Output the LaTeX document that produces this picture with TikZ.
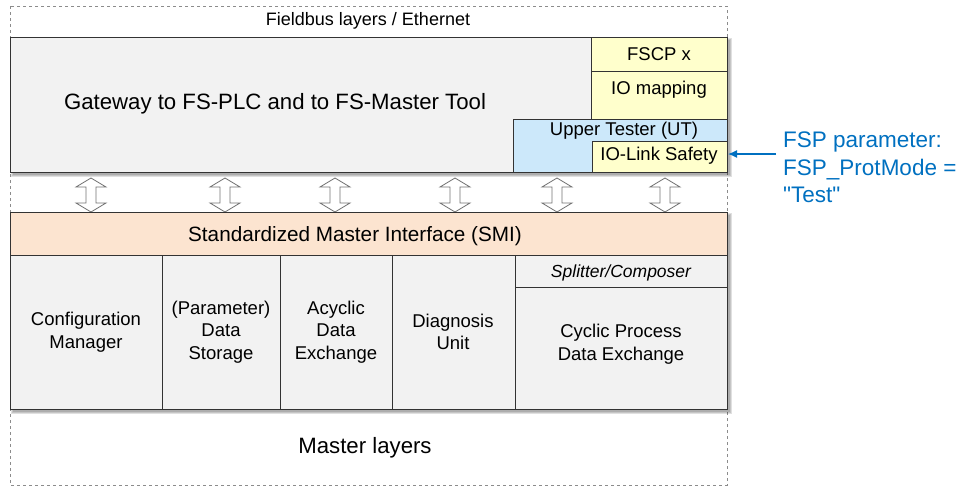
\documentclass[tikz,border=0pt]{standalone}
\usepackage{fontspec}
\setmainfont{Liberation Sans}
\newfontfamily\fspfont{Liberation Sans}[Ligatures=TeXOff]
\usetikzlibrary{arrows.meta,calc}
\definecolor{boxgray}{HTML}{F2F2F2}
\definecolor{boxyel}{HTML}{FFFFCC}
\definecolor{boxblue}{HTML}{CCE8FA}
\definecolor{boxpeach}{HTML}{FCE4D0}
\definecolor{fspblue}{HTML}{0070C0}
\tikzset{
  blk/.style={draw=black!80, line width=0.9pt},
  shd/.style={fill=black, opacity=0.12},
  lbl/.style={font=\fontsize{18.5}{22.5}\selectfont, align=center},
  darr/.style={draw=black!55, fill=white, line width=0.8pt, line join=miter}
}
\newcommand{\softshadow}[4]{%
  \fill[shd] (#1+1,#2+1) rectangle (#3+4.5,#4+4.5);
  \fill[shd] (#1+2,#2+2) rectangle (#3+3.5,#4+3.5);
  \fill[shd] (#1+2.5,#2+2.5) rectangle (#3+2.5,#4+2.5);}
\newcommand{\dblarrow}[2]{%
  \coordinate (#2) at (#1,195);
  \draw[darr] ($(#2)+(-5,-8)$) -- ($(#2)+(-15,-8)$) -- ($(#2)+(0,-17)$) -- ($(#2)+(15,-8)$) -- ($(#2)+(5,-8)$)
     -- ($(#2)+(5,8)$) -- ($(#2)+(15,8)$) -- ($(#2)+(0,17)$) -- ($(#2)+(-15,8)$) -- ($(#2)+(-5,8)$) -- cycle;}
\begin{document}
\begin{tikzpicture}[x=1pt,y=-1pt]
\useasboundingbox (0,0) rectangle (957,488);
% outer dashed frame
\draw[draw=black!45, dashed, line width=0.8pt] (10,6) rectangle (727,485);
\node[font=\fontsize{18}{20}\selectfont] (fb) at (368,21) {Fieldbus layers / Ethernet};
% gateway
\softshadow{10}{37}{727}{172}
\path[blk, fill=boxgray] (10,37) rectangle (727,172);
\node[font=\fontsize{22.2}{26}\selectfont] (gw) at (275,104) {Gateway to FS-PLC and to FS-Master Tool};
\path[blk, fill=boxyel] (591,37) rectangle (727,71);
\node[lbl] (fscp) at (659,54) {FSCP x};
\path[blk, fill=boxyel] (591,71) rectangle (727,119);
\node[lbl] (iom) at (659,90) {IO mapping};
\path[blk, fill=boxblue] (513,119) rectangle (727,172);
\node[lbl] (ut) at (624,131) {Upper Tester (UT)};
\path[blk, fill=boxyel] (592,141) rectangle (727,172);
\node[lbl] (ils) at (659,156) {IO-Link Safety};
\coordinate (ilsr) at (728,154);
% FSP label
\node[font=\fspfont\fontsize{22.5}{27.5}\selectfont, text=fspblue, align=left, anchor=north west, inner sep=0pt] (fsp) at (783,132)
  {FSP parameter:\\FSP\_ProtMode =\\"Test"};
\draw[fspblue, line width=1.2pt, -{Latex[length=9pt,width=8pt]}] (776,154) -- (ilsr);
% double arrows
\dblarrow{91}{a1}
\dblarrow{225}{a2}
\dblarrow{335}{a3}
\dblarrow{455}{a4}
\dblarrow{557}{a5}
\dblarrow{665}{a6}
% SMI
\softshadow{10}{212}{727}{409}
\path[blk, fill=boxpeach] (10,212) rectangle (727,255);
\node[font=\fontsize{20.7}{24}\selectfont] (smi) at (355,236) {Standardized Master Interface (SMI)};
% bottom boxes
\path[blk, fill=boxgray] (10,255) rectangle (162,409);
\path[blk, fill=boxgray] (162,255) rectangle (280,409);
\path[blk, fill=boxgray] (280,255) rectangle (392,409);
\path[blk, fill=boxgray] (392,255) rectangle (515,409);
\path[blk, fill=boxgray] (515,255) rectangle (727,409);
\draw[blk] (515,287) -- (727,287);
\node[lbl] (cm) at (86,332) {Configuration\\Manager};
\node[lbl] (ds) at (221,332) {(Parameter)\\Data\\Storage};
\node[lbl] (ad) at (336,332) {Acyclic\\Data\\Exchange};
\node[lbl] (du) at (453,332) {Diagnosis\\Unit};
\node[lbl, font=\fontsize{17.5}{21}\selectfont\itshape] (sc) at (621,273) {Splitter/Composer};
\node[lbl] (cp) at (621,344) {Cyclic Process\\Data Exchange};
\node[font=\fontsize{22.2}{26}\selectfont] (ml) at (365,448) {Master layers};
\end{tikzpicture}
\end{document}
